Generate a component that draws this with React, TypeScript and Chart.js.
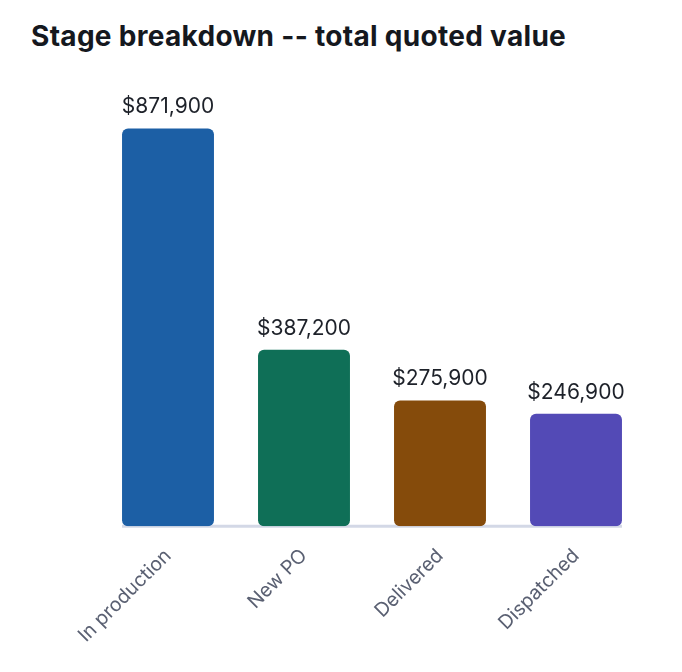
import React, { useEffect, useRef } from 'react';
import { Chart, registerables, Plugin } from 'chart.js';

Chart.register(...registerables);

// --- datos del gráfico ---
const stages = ['In production', 'New PO', 'Delivered', 'Dispatched'];
const quotedValues = [871900, 387200, 275900, 246900];
const stageColors = ['#1c5fa5', '#0f6f57', '#854b0b', '#534ab6'];

const fmtMoney = (v: number) => '$' + v.toLocaleString('en-US');

// línea base solo bajo las barras
const baselinePlugin: Plugin<'bar'> = {
  id: 'baseline',
  beforeDatasetsDraw(chart) {
    const bars = chart.getDatasetMeta(0).data as any[];
    if (!bars.length) return;
    const first = bars[0].getProps(['x', 'width'], true);
    const last = bars[bars.length - 1].getProps(['x', 'width'], true);
    const y = chart.scales.y.getPixelForValue(0);
    const ctx = chart.ctx;
    ctx.save();
    ctx.strokeStyle = '#d3d8e6';
    ctx.lineWidth = 3;
    ctx.beginPath();
    ctx.moveTo(first.x - first.width / 2, y);
    ctx.lineTo(last.x + last.width / 2, y);
    ctx.stroke();
    ctx.restore();
  },
};

// etiquetas de valor encima de cada barra
const valueLabelPlugin: Plugin<'bar'> = {
  id: 'valueLabels',
  afterDatasetsDraw(chart) {
    const ctx = chart.ctx;
    const bars = chart.getDatasetMeta(0).data as any[];
    ctx.save();
    ctx.font = '400 21px Inter';
    ctx.fillStyle = '#1d2129';
    ctx.textAlign = 'center';
    ctx.textBaseline = 'alphabetic';
    bars.forEach((bar, i) => {
      const { x, y } = bar.getProps(['x', 'y'], true);
      ctx.fillText(fmtMoney(quotedValues[i]), x, y - 15);
    });
    ctx.restore();
  },
};

export default function App() {
  const canvasRef = useRef<HTMLCanvasElement>(null);

  useEffect(() => {
    if (!canvasRef.current) return;
    const chart = new Chart(canvasRef.current, {
      type: 'bar',
      data: {
        labels: stages,
        datasets: [
          {
            data: quotedValues,
            backgroundColor: stageColors,
            borderRadius: 6,
            borderSkipped: false,
            categoryPercentage: 1,
            barPercentage: 0.676,
          },
        ],
      },
      options: {
        responsive: true,
        maintainAspectRatio: false,
        animation: false,
        layout: { padding: { left: 100, right: 38, top: 10, bottom: 7 } },
        plugins: {
          legend: { display: false },
          tooltip: { enabled: false },
        },
        scales: {
          x: {
            grid: { display: false, drawTicks: false },
            border: { display: false },
            ticks: {
              color: '#5a6072',
              font: { family: 'Inter', size: 19.5 },
              minRotation: 45,
              maxRotation: 45,
              padding: 18,
            },
          },
          y: {
            display: false,
            min: 0,
            max: 1000000,
          },
        },
      },
      plugins: [baselinePlugin, valueLabelPlugin],
    });
    return () => chart.destroy();
  }, []);

  return (
    <div style={{ position: 'absolute', left: 0, top: 0, width: 682, height: 672, background: '#fff' }}>
      <div
        style={{
          position: 'absolute',
          left: 31,
          top: 20,
          font: '700 28px Inter',
          lineHeight: '32px',
          letterSpacing: '0.3px',
          color: '#15181e',
          whiteSpace: 'nowrap',
        }}
      >
        Stage breakdown -- total quoted value
      </div>
      <div style={{ position: 'absolute', left: 0, top: 60, width: 682, height: 612 }}>
        <canvas ref={canvasRef} />
      </div>
    </div>
  );
}
